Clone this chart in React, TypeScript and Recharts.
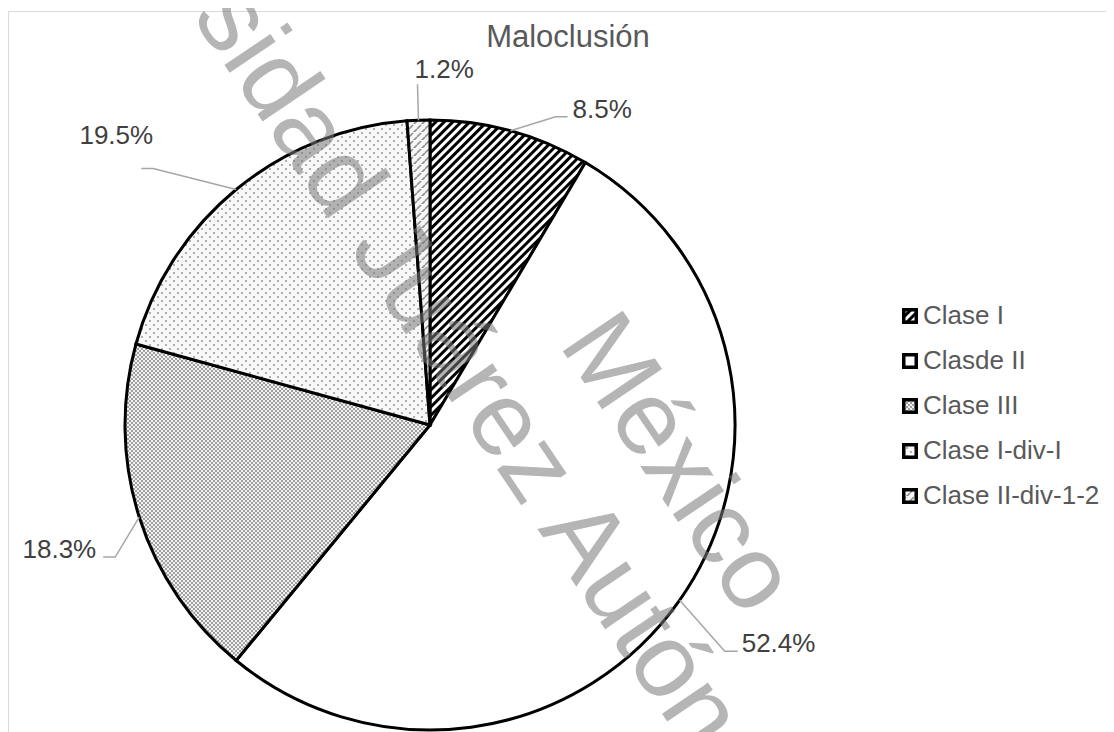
import React from 'react';
import { PieChart, Pie, Cell, Legend } from 'recharts';

const categories = ['Clase I', 'Clasde II', 'Clase III', 'Clase I-div-I', 'Clase II-div-1-2'];
const percentages = [8.5, 52.4, 18.3, 19.5, 1.2];
const fills = ['url(#hatch)', '#ffffff', 'url(#denseDots)', 'url(#sparseDots)', 'url(#dashDiag)'];

const data = categories.map((name, i) => ({ name, value: percentages[i] }));

// leader line + text placement relative to the point on the arc
const labelLayout = [
  { ex: 45, ey: -14, hx: 12, anchor: 'start', tx: 5, ty: -8 },
  { ex: 45, ey: 51, hx: 13, anchor: 'start', tx: 4, ty: -8 },
  { ex: -24, ey: 40, hx: -12, anchor: 'end', tx: -7, ty: -8 },
  { ex: -83, ey: -21, hx: -12, anchor: 'end', tx: 12, ty: -34 },
  { ex: -1, ey: -36, hx: 0, anchor: 'start', tx: -3, ty: -15 },
];

const FONT = '"Liberation Sans", Arial, Helvetica, sans-serif';
const RAD = Math.PI / 180;

function renderLabel(props: any) {
  const { cx, cy, midAngle, outerRadius, index, value } = props;
  const l = labelLayout[index];
  const sx = cx + outerRadius * Math.cos(-midAngle * RAD);
  const sy = cy + outerRadius * Math.sin(-midAngle * RAD);
  const ex = sx + l.ex;
  const ey = sy + l.ey;
  const hx = ex + l.hx;
  return (
    <g>
      <polyline
        points={`${sx},${sy} ${ex},${ey} ${hx},${ey}`}
        fill="none"
        stroke="#a6a6a6"
        strokeWidth={1.5}
      />
      <text
        x={hx + l.tx}
        y={ey + l.ty}
        textAnchor={l.anchor}
        dominantBaseline="central"
        fill="#404040"
        fontSize={26}
        fontFamily={FONT}
      >
        {`${Number(value).toFixed(1)}%`}
      </text>
    </g>
  );
}

function LegendList() {
  return (
    <div style={{ fontFamily: FONT, fontSize: 26, color: '#595959' }}>
      {categories.map((name, i) => (
        <div key={name} style={{ display: 'flex', alignItems: 'center', height: 45 }}>
          <svg width={16} height={16} style={{ marginRight: 5 }}>
            <rect x={1.75} y={1.75} width={12.5} height={12.5} fill={fills[i]} stroke="#000" strokeWidth={3.5} />
          </svg>
          <span style={{ whiteSpace: 'nowrap' }}>{name}</span>
        </div>
      ))}
    </div>
  );
}

export default function App() {
  return (
    <div
      style={{
        position: 'relative',
        top: 3,
        width: 1110,
        height: 730,
        border: '1px solid #d9d9d9',
        background: '#fff',
      }}
    >
      <style>{`body{overflow:hidden}`}</style>
      <svg width={0} height={0} style={{ position: 'absolute' }}>
        <defs>
          <pattern id="hatch" patternUnits="userSpaceOnUse" width={6} height={6} patternTransform="rotate(45)">
            <rect x={0} y={0} width={6} height={6} fill="#fff" />
            <rect x={0} y={0} width={3} height={6} fill="#000" />
          </pattern>
          <pattern id="denseDots" patternUnits="userSpaceOnUse" width={4} height={4}>
            <rect x={0} y={0} width={4} height={4} fill="#f2f2f2" />
            <circle cx={1} cy={1} r={1} fill="#858585" />
            <circle cx={3} cy={3} r={1} fill="#858585" />
          </pattern>
          <pattern id="sparseDots" patternUnits="userSpaceOnUse" width={8} height={8}>
            <rect x={0} y={0} width={8} height={8} fill="#f8f8f8" />
            <circle cx={1} cy={1} r={0.9} fill="#8c8c8c" />
            <circle cx={5} cy={5} r={0.9} fill="#8c8c8c" />
          </pattern>
          <pattern id="dashDiag" patternUnits="userSpaceOnUse" width={8} height={8}>
            <rect x={0} y={0} width={8} height={8} fill="#f6f6f6" />
            <line x1={0} y1={5} x2={4} y2={1} stroke="#8c8c8c" strokeWidth={1.6} />
            <line x1={4} y1={9} x2={8} y2={5} stroke="#8c8c8c" strokeWidth={1.6} />
          </pattern>
        </defs>
      </svg>

      <div
        style={{
          position: 'absolute',
          left: 359,
          top: 7,
          width: 400,
          textAlign: 'center',
          fontFamily: FONT,
          fontSize: 31,
          lineHeight: '36px',
          color: '#595959',
        }}
      >
        Maloclusión
      </div>

      <PieChart width={1110} height={730}>
        <Pie
          data={data}
          dataKey="value"
          nameKey="name"
          cx={416}
          cy={408}
          outerRadius={305}
          startAngle={90}
          endAngle={-270}
          stroke="#000"
          strokeWidth={3}
          label={renderLabel}
          labelLine={false}
          isAnimationActive={false}
        >
          {data.map((d, i) => (
            <Cell key={d.name} fill={fills[i]} />
          ))}
        </Pie>
        <Legend
          content={() => <LegendList />}
          wrapperStyle={{ position: 'absolute', left: 893, top: 281, width: 220 }}
        />
      </PieChart>

      <svg
        width={1114}
        height={732}
        style={{ position: 'absolute', left: -9, top: -12, pointerEvents: 'none' }}
      >
        <g fill="rgba(120,120,120,0.55)" fontFamily={FONT} fontSize={105}>
          <g transform="translate(191,15.5) rotate(56)">
            <text x={-303} y={0}>Universidad Juárez Autónoma de Tabasco</text>
          </g>
          <g transform="translate(558,344) rotate(56)">
            <text x={0} y={0}>México</text>
          </g>
        </g>
      </svg>
    </div>
  );
}
